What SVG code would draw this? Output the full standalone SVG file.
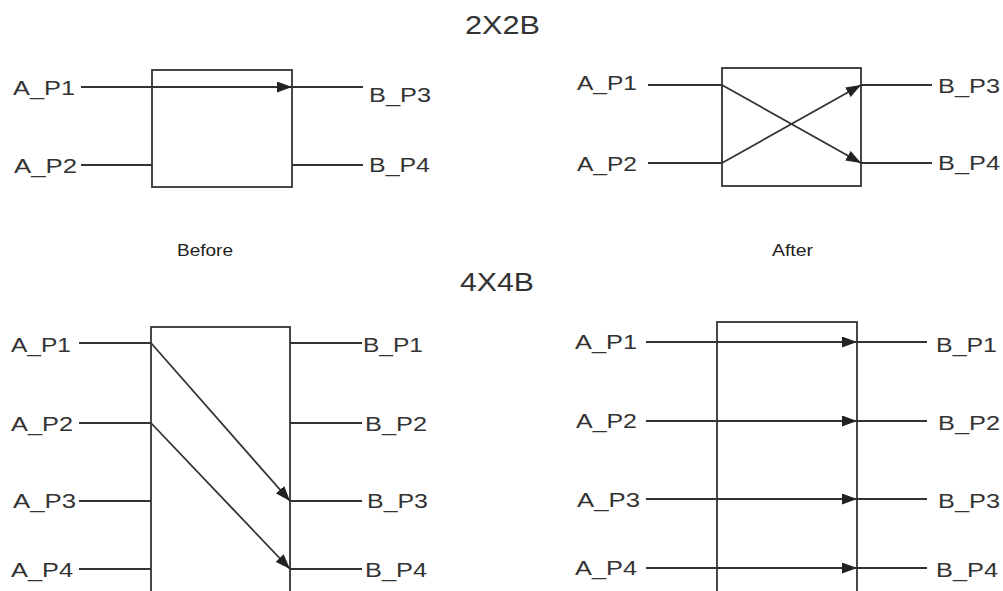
<svg xmlns="http://www.w3.org/2000/svg" width="1003" height="591" viewBox="0 0 1003 591">
<style>
.box{fill:none;stroke:#333;stroke-width:1.8}
.ln{fill:none;stroke:#333;stroke-width:1.8}
.lbl{font-family:"Liberation Sans",Arial,sans-serif;font-size:20px;fill:#333}
.ttl{font-family:"Liberation Sans",Arial,sans-serif;font-size:26px;fill:#333}
.cap{font-family:"Liberation Sans",Arial,sans-serif;font-size:16px;fill:#222}
</style>
<defs>
<marker id="arr" markerUnits="userSpaceOnUse" markerWidth="15" markerHeight="11" viewBox="0 0 15 11" refX="15" refY="5.5" orient="auto">
<path d="M0,0 L15,5.5 L0,11 Z" fill="#222"/>
</marker>
</defs>
<rect width="1003" height="591" fill="#fff"/>
<g id="titles">
<text class="ttl" x="465" y="34" textLength="75" lengthAdjust="spacingAndGlyphs">2X2B</text>
<text class="ttl" x="460" y="291" textLength="74" lengthAdjust="spacingAndGlyphs">4X4B</text>
<text class="cap" x="177" y="256" textLength="56" lengthAdjust="spacingAndGlyphs">Before</text>
<text class="cap" x="772" y="256" textLength="41" lengthAdjust="spacingAndGlyphs">After</text>
</g>
<g id="box-2x2-before"><rect class="box" x="152" y="70" width="140" height="117"/></g>
<g id="box-2x2-after"><rect class="box" x="722" y="68" width="139" height="118"/></g>
<g id="box-4x4-before"><rect class="box" x="151" y="327" width="139" height="280"/></g>
<g id="box-4x4-after"><rect class="box" x="717" y="322" width="140" height="285"/></g>
<g id="labels-2x2-before">
<text class="lbl" x="13" y="95" textLength="62" lengthAdjust="spacingAndGlyphs">A_P1</text>
<text class="lbl" x="14" y="173" textLength="63" lengthAdjust="spacingAndGlyphs">A_P2</text>
<text class="lbl" x="369" y="102" textLength="62" lengthAdjust="spacingAndGlyphs">B_P3</text>
<text class="lbl" x="369" y="172" textLength="61" lengthAdjust="spacingAndGlyphs">B_P4</text>
</g>
<g id="labels-2x2-after">
<text class="lbl" x="577" y="90" textLength="60" lengthAdjust="spacingAndGlyphs">A_P1</text>
<text class="lbl" x="577" y="171" textLength="60" lengthAdjust="spacingAndGlyphs">A_P2</text>
<text class="lbl" x="938" y="93" textLength="62" lengthAdjust="spacingAndGlyphs">B_P3</text>
<text class="lbl" x="938" y="170" textLength="62" lengthAdjust="spacingAndGlyphs">B_P4</text>
</g>
<g id="labels-4x4-before">
<text class="lbl" x="11" y="352" textLength="60" lengthAdjust="spacingAndGlyphs">A_P1</text>
<text class="lbl" x="11" y="431" textLength="62" lengthAdjust="spacingAndGlyphs">A_P2</text>
<text class="lbl" x="13" y="508" textLength="63" lengthAdjust="spacingAndGlyphs">A_P3</text>
<text class="lbl" x="11" y="577" textLength="62" lengthAdjust="spacingAndGlyphs">A_P4</text>
<text class="lbl" x="363" y="352" textLength="60" lengthAdjust="spacingAndGlyphs">B_P1</text>
<text class="lbl" x="365" y="431" textLength="62" lengthAdjust="spacingAndGlyphs">B_P2</text>
<text class="lbl" x="367" y="508" textLength="61" lengthAdjust="spacingAndGlyphs">B_P3</text>
<text class="lbl" x="365" y="577" textLength="62" lengthAdjust="spacingAndGlyphs">B_P4</text>
</g>
<g id="labels-4x4-after">
<text class="lbl" x="575" y="349" textLength="62" lengthAdjust="spacingAndGlyphs">A_P1</text>
<text class="lbl" x="576" y="428" textLength="61" lengthAdjust="spacingAndGlyphs">A_P2</text>
<text class="lbl" x="577" y="507" textLength="63" lengthAdjust="spacingAndGlyphs">A_P3</text>
<text class="lbl" x="575" y="575" textLength="62" lengthAdjust="spacingAndGlyphs">A_P4</text>
<text class="lbl" x="936" y="352" textLength="61" lengthAdjust="spacingAndGlyphs">B_P1</text>
<text class="lbl" x="938" y="430" textLength="62" lengthAdjust="spacingAndGlyphs">B_P2</text>
<text class="lbl" x="938" y="508" textLength="62" lengthAdjust="spacingAndGlyphs">B_P3</text>
<text class="lbl" x="936" y="577" textLength="62" lengthAdjust="spacingAndGlyphs">B_P4</text>
</g>
<g id="connectors">
<!-- 2x2 before -->
<path class="ln" d="M81,87 L292,87" marker-end="url(#arr)"/>
<path class="ln" d="M292,87 L363,87"/>
<path class="ln" d="M81,165 L152,165"/>
<path class="ln" d="M292,165 L363,165"/>
<!-- 2x2 after -->
<path class="ln" d="M648,85 L722,85"/>
<path class="ln" d="M648,163 L722,163"/>
<path class="ln" d="M722,85 L861,163" marker-end="url(#arr)"/>
<path class="ln" d="M722,163 L861,85" marker-end="url(#arr)"/>
<path class="ln" d="M861,85 L932,85"/>
<path class="ln" d="M861,163 L932,163"/>
<!-- 4x4 before -->
<path class="ln" d="M79,343 L151,343"/>
<path class="ln" d="M79,423 L151,423"/>
<path class="ln" d="M79,501 L151,501"/>
<path class="ln" d="M79,569 L151,569"/>
<path class="ln" d="M290,343 L362,343"/>
<path class="ln" d="M290,423 L362,423"/>
<path class="ln" d="M290,501 L362,501"/>
<path class="ln" d="M290,569 L362,569"/>
<path class="ln" d="M151,343 L290,501" marker-end="url(#arr)"/>
<path class="ln" d="M151,423 L290,569" marker-end="url(#arr)"/>
<!-- 4x4 after -->
<path class="ln" d="M646,342 L857,342" marker-end="url(#arr)"/>
<path class="ln" d="M646,421 L857,421" marker-end="url(#arr)"/>
<path class="ln" d="M646,499 L857,499" marker-end="url(#arr)"/>
<path class="ln" d="M646,568 L857,568" marker-end="url(#arr)"/>
<path class="ln" d="M857,342 L927,342"/>
<path class="ln" d="M857,421 L927,421"/>
<path class="ln" d="M857,499 L927,499"/>
<path class="ln" d="M857,568 L927,568"/>
</g>
</svg>
